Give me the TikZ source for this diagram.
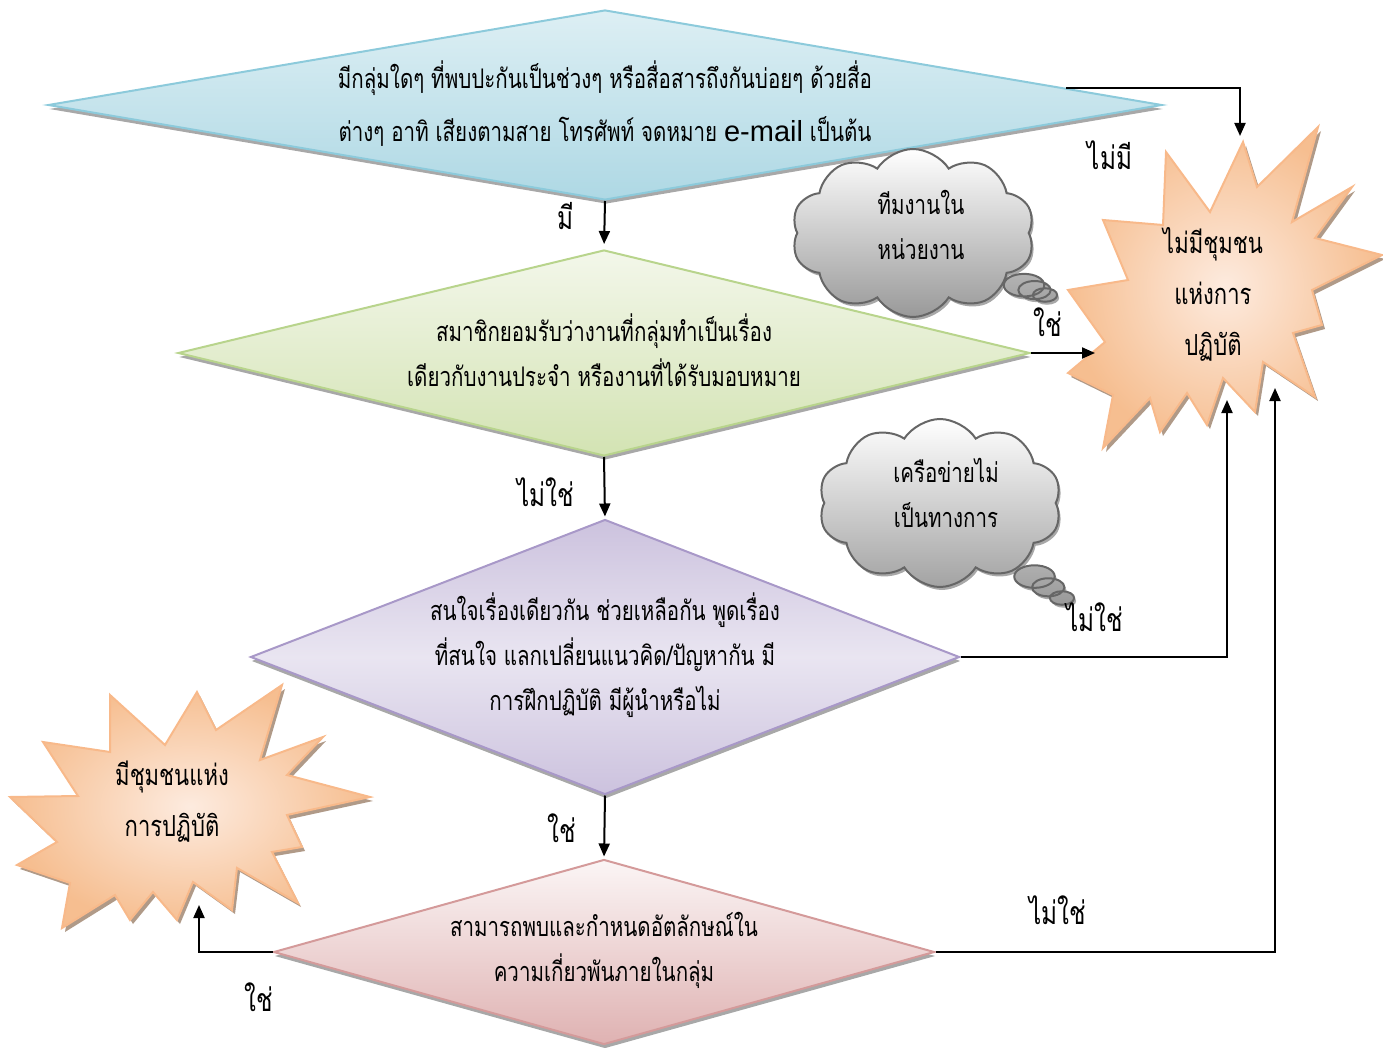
\documentclass[tikz,border=0pt]{standalone}
\usepackage{fontspec}
\usetikzlibrary{shapes.geometric,shapes.symbols,shapes.callouts,arrows.meta,shadows,calc}
\newfontfamily\thaifont[Script=Thai,FakeStretch=0.76]{Loma}
\newfontfamily\latinfont{Liberation Sans}

\definecolor{blueEdge}{HTML}{8CCADB}
\definecolor{blueA}{HTML}{DDEFF4}
\definecolor{blueB}{HTML}{AED8E4}
\definecolor{greenEdge}{HTML}{B8D48C}
\definecolor{greenA}{HTML}{F3F7EA}
\definecolor{greenB}{HTML}{D3E3B3}
\definecolor{purpEdge}{HTML}{A898C8}
\definecolor{purpA}{HTML}{E9E5F1}
\definecolor{purpB}{HTML}{CCC2DE}
\definecolor{pinkEdge}{HTML}{D49A9A}
\definecolor{pinkA}{HTML}{FBF5F5}
\definecolor{pinkB}{HTML}{DFB2B2}
\definecolor{burstEdge}{HTML}{F8B98A}
\definecolor{burstA}{HTML}{FDEBDF}
\definecolor{burstB}{HTML}{F6BE90}
\definecolor{cloudEdge}{HTML}{666666}
\definecolor{shadowGray}{HTML}{A8A8A8}
\definecolor{shadowBrown}{HTML}{B09A88}

\tikzset{
  decision/.style={diamond, inner sep=0pt, line width=2pt,
    drop shadow={shadow xshift=1pt, shadow yshift=-4pt, fill=shadowGray, opacity=1}},
  dtext/.style={align=center, font=\thaifont\fontsize{27}{45}\selectfont},
  burst/.style={draw=burstEdge, line width=2pt, line join=miter,
    inner color=burstA, outer color=burstB,
    drop shadow={shadow xshift=3pt, shadow yshift=-4pt, fill=shadowBrown, opacity=1}},
  bursttext/.style={align=center, font=\thaifont\fontsize{29}{51}\selectfont},
  thought/.style={cloud callout, cloud puffs=10, cloud puff arc=115, aspect=1.45,
    callout pointer segments=3, draw=cloudEdge, line width=2pt,
    top color=white, bottom color=gray!80, inner sep=0pt,
    drop shadow={shadow xshift=2pt, shadow yshift=-3pt, fill=shadowGray, opacity=1}},
  thoughttext/.style={align=center, font=\thaifont\fontsize{27}{45}\selectfont},
  conn/.style={line width=2pt, -{Triangle[width=11pt,length=13pt]}},
  answer/.style={font=\thaifont\fontsize{32}{34}\selectfont}
}

\begin{document}
\begin{tikzpicture}[x=1pt,y=-1pt]
\useasboundingbox (0,0) rectangle (1383,1048);

% decision diamonds
\node[decision, draw=blueEdge, top color=blueA, bottom color=blueB,
  minimum width=1114pt, minimum height=190pt] (d1) at (605,105) {};
\node[dtext, font=\thaifont\fontsize{27}{53}\selectfont] (t1) at (605,104)
  {มีกลุ่มใดๆ ที่พบปะกันเป็นช่วงๆ หรือสื่อสารถึงกันบ่อยๆ ด้วยสื่อ\\
   ต่างๆ อาทิ เสียงตามสาย โทรศัพท์ จดหมาย {\latinfont\fontsize{29}{53}\selectfont e-mail} เป็นต้น};

\node[decision, draw=greenEdge, top color=greenA, bottom color=greenB,
  minimum width=852pt, minimum height=206pt] (d2) at (604,353) {};
\node[dtext] (t2) at (604,350)
  {สมาชิกยอมรับว่างานที่กลุ่มทำเป็นเรื่อง\\เดียวกับงานประจำ หรืองานที่ได้รับมอบหมาย};

\node[decision, draw=purpEdge, top color=purpB, bottom color=purpB, middle color=purpA,
  minimum width=709pt, minimum height=275pt] (d3) at (605,657) {};
\node[dtext] (t3) at (605,655)
  {สนใจเรื่องเดียวกัน ช่วยเหลือกัน พูดเรื่อง\\ที่สนใจ แลกเปลี่ยนแนวคิด/ปัญหากัน มี\\การฝึกปฏิบัติ มีผู้นำหรือไม่};

\node[decision, draw=pinkEdge, top color=pinkA, bottom color=pinkB,
  minimum width=661pt, minimum height=185pt] (d4) at (604,952) {};
\node[dtext] (t4) at (604,950)
  {สามารถพบและกำหนดอัตลักษณ์ใน\\ความเกี่ยวพันภายในกลุ่ม};

% outcome starbursts
\path[burst] (1243,142) -- (1257,187) -- (1318,127) -- (1292,222) -- (1352,187)
  -- (1315,238) -- (1382,255) -- (1312,290) -- (1322,325) -- (1293,333)
  -- (1315,397) -- (1263,362) -- (1255,412) -- (1223,378) -- (1207,425)
  -- (1187,393) -- (1160,432) -- (1150,398) -- (1103,448) -- (1113,395)
  -- (1068,373) -- (1105,342) -- (1068,290) -- (1128,280) -- (1103,220)
  -- (1163,225) -- (1166,152) -- (1210,212) -- cycle;
\node[bursttext] (s1) at (1213,294) {ไม่มีชุมชน\\แห่งการ\\ปฏิบัติ};

\path[burst] (197,692) -- (216,730) -- (282,685) -- (260,760) -- (323,737)
  -- (287,775) -- (370,797) -- (287,815) -- (302,847) -- (272,852)
  -- (298,903) -- (237,868) -- (232,910) -- (193,882) -- (177,920)
  -- (153,892) -- (130,920) -- (115,895) -- (62,928) -- (70,883)
  -- (17,865) -- (57,842) -- (10,797) -- (78,796) -- (43,742)
  -- (110,752) -- (110,695) -- (165,745) -- cycle;
\node[bursttext] (s2) at (172,802) {มีชุมชนแห่ง\\การปฏิบัติ};

% thought clouds
\node[thought, minimum width=243pt, minimum height=168pt,
  callout absolute pointer={(1045,295)}] (c1) at (913,233) {};
\node[thoughttext] (c1t) at (921,225) {ทีมงานใน\\หน่วยงาน};
\node[thought, minimum width=243pt, minimum height=168pt,
  callout absolute pointer={(1062,598)}] (c2) at (940,503) {};
\node[thoughttext] (c2t) at (946,493) {เครือข่ายไม่\\เป็นทางการ};

% connector end points on the starbursts
\coordinate (e1) at ($(d1.north)!0.826!(d1.east)$);
\coordinate (s1top) at (1240,136);
\coordinate (s1left) at (1095,353);
\coordinate (s1low) at (1227,400);
\coordinate (s1right) at (1275,388);
\coordinate (s2low) at (199,905);

% connectors
\draw[conn] (e1) -| (s1top);
\draw[conn, shorten >=5pt] (d1.south) -- (d2.north);
\draw[conn] (d2.east) -- (s1left);
\draw[conn, shorten >=2pt] (d2.south) -- (d3.north);
\draw[conn] (d3.east) -| (s1low);
\draw[conn, shorten >=2pt] (d3.south) -- (d4.north);
\draw[conn] (d4.east) -| (s1right);
\draw[conn] (d4.west) -| (s2low);

% answers
\node[answer] (a1) at (1110,155) {ไม่มี};
\node[answer] (a2) at (566,216) {มี};
\node[answer] (a3) at (1048,322) {ใช่};
\node[answer] (a4) at (546,492) {ไม่ใช่};
\node[answer] (a5) at (1095,617) {ไม่ใช่};
\node[answer] (a6) at (562,828) {ใช่};
\node[answer] (a7) at (1058,910) {ไม่ใช่};
\node[answer] (a8) at (259,997) {ใช่};
\end{tikzpicture}
\end{document}
